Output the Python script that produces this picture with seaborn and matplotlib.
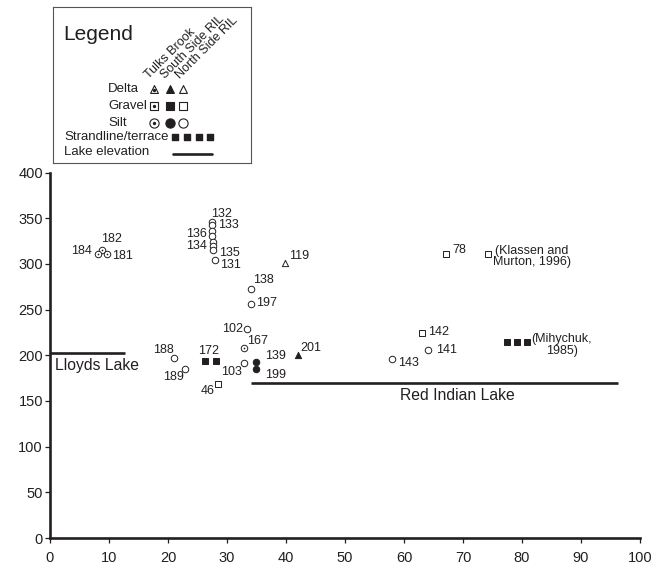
import matplotlib
matplotlib.use("Agg")
import matplotlib.pyplot as plt
import pandas as pd
import seaborn as sns

# sample points: label, distance (km), elevation (m), site, facies
labels = ["182", "184", "181", "167",
          "132", "133", "136", "", "134", "", "135", "131", "138", "197", "102",
          "188", "189", "103", "143", "141",
          "139", "199",
          "46", "142", "78", "(Klassen and\nMurton, 1996)",
          "201", "119",
          "172", "", "", "", "(Mihychuk,\n1985)"]
dist_km = [8.8, 8.2, 9.6, 32.9,
           27.4, 27.4, 27.4, 27.4, 27.7, 27.7, 27.7, 27.9, 34.0, 34.0, 33.4,
           21.0, 22.9, 32.9, 58.0, 64.0,
           34.9, 34.9,
           28.5, 63.1, 67.1, 74.2,
           42.1, 39.9,
           26.3, 28.1, 77.4, 79.1, 80.8]
elev_m = [315.6, 311, 311, 207.4,
          346, 342, 335.5, 330.5, 324, 319.5, 315, 304, 272, 256.6, 229,
          197.5, 184.7, 192, 196.4, 205.5,
          193, 184.7,
          169, 224.6, 311, 311,
          200, 301,
          193.6, 193.6, 214, 214, 214]
site = (["Tulks"] * 4 + ["North"] * 16 + ["South"] * 2 + ["North"] * 4
        + ["South", "North"] + ["Strand"] * 5)
facies = (["silt"] * 22 + ["gravel"] * 4 + ["delta"] * 2 + ["strand"] * 5)

lake_names = ["Lloyds Lake", "Red Indian Lake"]
lake_start = [0, 34.0]
lake_end = [12.7, 96.3]
lake_elev = [202.6, 169.8]

df = pd.DataFrame({"label": labels, "x": dist_km, "y": elev_m,
                   "site": site, "facies": facies})

INK = "#231f20"
shape = {"silt": "o", "gravel": "s", "delta": "^", "strand": "s"}
size = {"silt": 22, "gravel": 14, "delta": 20, "strand": 17}

# label offsets in pixels (dx, dy, ha)
offs = {"182": (-1, 11, "left"), "184": (-6, 3, "right"), "181": (5, -2, "left"),
        "167": (3, 7, "left"), "132": (-1, 8, "left"), "133": (6, 0, "left"),
        "136": (-5, -2.5, "right"), "134": (-6, -4, "right"), "135": (6, -3, "left"),
        "131": (5, -5, "left"), "138": (2, 9, "left"), "197": (5, 1, "left"),
        "102": (-4, 0, "right"), "188": (0, 8, "right"), "189": (-1, -8, "right"),
        "103": (-2, -9, "right"), "143": (6, -4, "left"), "141": (8, 0, "left"),
        "139": (9, 6, "left"), "199": (9, -6, "left"), "46": (-3, -7, "right"),
        "142": (6, 1, "left"), "78": (6, 4, "left"), "201": (2, 7, "left"),
        "119": (4, 7, "left"), "172": (3, 10, "center")}

sns.set_style("ticks")
plt.rcParams["font.family"] = ["Liberation Sans", "DejaVu Sans"]
plt.rcParams["text.color"] = INK

fig = plt.figure(figsize=(6.65, 5.69), dpi=100)
ax = fig.add_axes([50 / 665, 1 - 538 / 569, 590 / 665, 365.5 / 569])

for (s, f), g in df.groupby(["site", "facies"]):
    filled = s in ("South", "Strand")
    sns.scatterplot(data=g, x="x", y="y", ax=ax, marker=shape[f], s=size[f],
                    color=INK if filled else "white", edgecolor=INK,
                    linewidth=0.7, zorder=3, legend=False)
    if s == "Tulks":
        sns.scatterplot(data=g, x="x", y="y", ax=ax, marker="o", s=1.5,
                        color=INK, edgecolor=INK, linewidth=0, zorder=4, legend=False)

for _, r in df.iterrows():
    if r["label"] in offs:
        dx, dy, ha = offs[r["label"]]
        ax.annotate(r["label"], (r["x"], r["y"]), xytext=(dx, dy),
                    textcoords="offset pixels", ha=ha, va="center", fontsize=9)
    elif r["label"]:
        ax.annotate(r["label"], (r["x"], r["y"]), xytext=(5, 9),
                    textcoords="offset pixels", ha="left", va="top",
                    fontsize=9, multialignment="center", linespacing=0.95)

ax.hlines(lake_elev, lake_start, lake_end, color=INK, lw=1.9, zorder=2)
ax.text(0.8, 189, lake_names[0], fontsize=11.3, va="center", ha="left")
ax.text(59.4, 156, lake_names[1], fontsize=11.3, va="center", ha="left")

ax.set_xlim(0, 100)
ax.set_ylim(0, 400)
ax.set_xticks(range(0, 101, 10))
ax.set_yticks(range(0, 401, 50))
ax.set_xlabel("")
ax.set_ylabel("")
sns.despine(ax=ax)
for sp in ("left", "bottom"):
    ax.spines[sp].set_linewidth(1.9)
    ax.spines[sp].set_color(INK)
ax.tick_params(axis="both", length=3.6, width=0.9, color=INK, labelsize=10.5,
               labelcolor=INK)
ax.tick_params(axis="y", pad=1.5)
ax.tick_params(axis="x", pad=6)

# legend box, drawn in pixel units
lax = fig.add_axes([53 / 665, 1 - 163 / 569, 198 / 665, 156 / 569])
lax.set_xlim(53, 251)
lax.set_ylim(163, 7)
lax.set_xticks([])
lax.set_yticks([])
for sp in lax.spines.values():
    sp.set_linewidth(0.8)
    sp.set_color("#555555")

lax.text(63, 34, "Legend", fontsize=15, va="center", ha="left")
headers = ["Tulks Brook", "South Side RIL", "North Side RIL"]
col_x = [154, 170, 183]
for hx, h in zip([149, 165, 180], headers):
    lax.text(hx, 79, h, rotation=45, rotation_mode="anchor",
             ha="left", va="baseline", fontsize=9)

rows = [("Delta", "^", 89, 32), ("Gravel", "s", 106, 34), ("Silt", "o", 123, 44)]
for name, m, ry, ms in rows:
    lax.text(108, ry, name, fontsize=9.5, va="center", ha="left")
    for i, cx in enumerate(col_x):
        fill = INK if i == 1 else "white"
        lax.scatter([cx], [ry], marker=m, s=ms, facecolor=fill, edgecolor=INK,
                    linewidth=0.8, zorder=3)
        if i == 0:
            lax.scatter([cx], [ry + (1.2 if m == "^" else 0)], marker="o", s=2,
                        color=INK, zorder=4)

lax.text(64, 137, "Strandline/terrace", fontsize=9.5, va="center", ha="left")
lax.scatter([175, 187.3, 199.3, 210], [137] * 4, marker="s", s=16, color=INK)
lax.text(64, 152, "Lake elevation", fontsize=9.5, va="center", ha="left")
lax.plot([173, 212], [154, 154], color=INK, lw=1.9)

fig.savefig("out.png", dpi=100)
